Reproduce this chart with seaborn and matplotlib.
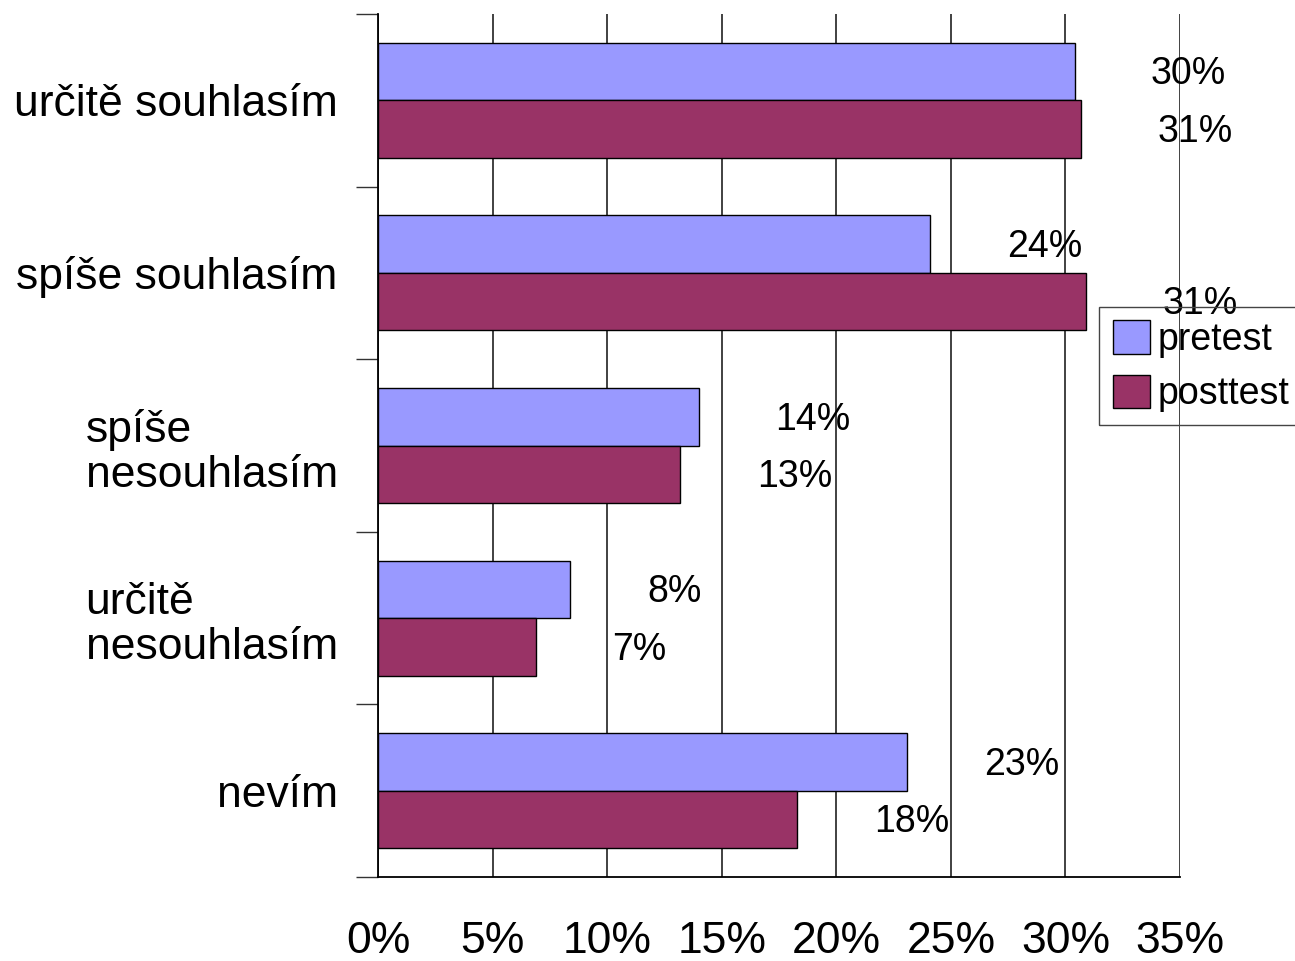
import matplotlib
matplotlib.use("Agg")
import matplotlib.pyplot as plt
import seaborn as sns
import pandas as pd
import numpy as np

# data (percent)
categories = ['určitě souhlasím', 'spíše souhlasím', 'spíše\nnesouhlasím',
              'určitě\nnesouhlasím', 'nevím']
series_names = ['pretest', 'posttest']
pretest = [30.4, 24.1, 14.0, 8.4, 23.1]
posttest = [30.7, 30.9, 13.2, 6.9, 18.3]
x_ticks = [0, 5, 10, 15, 20, 25, 30, 35]
colors = ['#9999FF', '#993366']

df = pd.DataFrame({
    'category': categories * 2,
    'value': pretest + posttest,
    'series': [series_names[0]] * len(categories) + [series_names[1]] * len(categories),
})

sns.set_style('white')
plt.rcParams['font.family'] = ['Liberation Sans', 'DejaVu Sans']
plt.rcParams['text.color'] = 'black'
plt.rcParams['xtick.labelcolor'] = 'black'
plt.rcParams['ytick.labelcolor'] = 'black'

fig = plt.figure(figsize=(12.95, 9.61), dpi=100)
ax = fig.add_axes([0.2919, 0.0874, 0.6193, 0.898])

sns.barplot(data=df, y='category', x='value', hue='series', orient='h',
            order=categories, hue_order=series_names, palette=colors,
            width=0.667, saturation=1, edgecolor='black', linewidth=1,
            legend=True, ax=ax, zorder=2)

# value labels, offset to the right of each bar
for cont, vals in zip(ax.containers, [pretest, posttest]):
    texts = ax.bar_label(cont, labels=[f'{round(v):.0f}%' for v in vals],
                         padding=55, fontsize=27, color='black')
    for t in texts:
        t.xyann = (t.xyann[0], -2)

ax.set_xlim(0, 35)
ax.set_ylim(len(categories) - 0.5, -0.5)
ax.set_xticks(x_ticks)
ax.set_xticklabels([f'{t}%' for t in x_ticks], fontsize=32)
ax.xaxis.grid(True, color='#333333', linewidth=1.3, zorder=0)
ax.set_axisbelow(True)
ax.tick_params(axis='x', length=16, width=1, color='#333333', pad=16)

# y tick marks between categories, labels without marks
ax.set_yticks(np.arange(-0.5, len(categories)), minor=True)
ax.tick_params(axis='y', which='minor', length=16, width=1, color='#333333', left=True)
ax.tick_params(axis='y', which='major', length=0, pad=29, labelsize=32)
for lab in ax.get_yticklabels():
    lab.set_multialignment('left')
    lab.set_linespacing(1.15)

ax.set_xlabel('')
ax.set_ylabel('')
for s in ['top', 'right']:
    ax.spines[s].set_visible(False)
for s in ['left', 'bottom']:
    ax.spines[s].set_color('black')
    ax.spines[s].set_linewidth(1.3)

handles, labels = ax.get_legend_handles_labels()
leg = ax.legend(handles, labels, loc='upper left', bbox_to_anchor=(0.849, 0.6805),
                bbox_transform=fig.transFigure, fontsize=27, frameon=True,
                fancybox=False, handlelength=1.0, handleheight=1.0,
                handletextpad=0.2, labelspacing=0.45, borderpad=0.35,
                borderaxespad=0)
frame = leg.get_frame()
frame.set_alpha(None)
frame.set_facecolor('none')
frame.set_edgecolor('#444444')
frame.set_linewidth(1.0)

fig.savefig('out.png', dpi=100)
